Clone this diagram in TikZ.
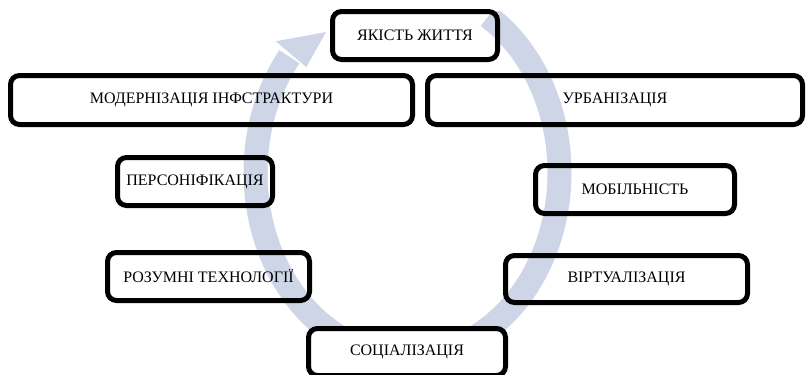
\documentclass[tikz,border=0pt]{standalone}
\usepackage{fontspec}
\setmainfont{Liberation Serif}
\definecolor{ringblue}{RGB}{205,213,231}
\begin{document}
\begin{tikzpicture}[x=1pt,y=-1pt,
  box/.style={draw=black, line width=5pt, rounded corners=9pt, inner sep=0pt,
    align=center, font=\fontsize{16}{19}\selectfont}]
\useasboundingbox (0,0) rectangle (807,375);
% ring
\begin{scope}
\clip (0,11) rectangle (807,375);
\draw[ringblue, line width=24pt] plot[domain=-219:58, samples=220]
  ({407.5+152*cos(\x)},{172.5-184*sin(\x)});
\end{scope}
\fill[ringblue] (275.7,41.3) -- (326,32) -- (306.4,67.1) -- cycle;
% boxes
\node[box, minimum width=165pt, minimum height=48pt] (q) at (415,35.5) {ЯКІСТЬ ЖИТТЯ};
\node[box, minimum width=402pt, minimum height=49pt] (m) at (211.5,100) {МОДЕРНІЗАЦІЯ ІНФСТРАКТУРИ};
\node[box, minimum width=375pt, minimum height=49pt] (u) at (615,100) {УРБАНІЗАЦІЯ};
\node[box, minimum width=155pt, minimum height=48pt] (p) at (195,181.5) {ПЕРСОНІФІКАЦІЯ};
\node[box, minimum width=199pt, minimum height=48pt] (mo) at (635,189.5) {МОБІЛЬНІСТЬ};
\node[box, minimum width=202pt, minimum height=48pt] (r) at (208.5,276.5) {РОЗУМНІ ТЕХНОЛОГІЇ};
\node[box, minimum width=242pt, minimum height=47pt] (v) at (626.5,279) {ВІРТУАЛІЗАЦІЯ};
\node[box, fill=white, minimum width=197pt, minimum height=47pt] (s) at (407,352) {СОЦІАЛІЗАЦІЯ};
\end{tikzpicture}
\end{document}
